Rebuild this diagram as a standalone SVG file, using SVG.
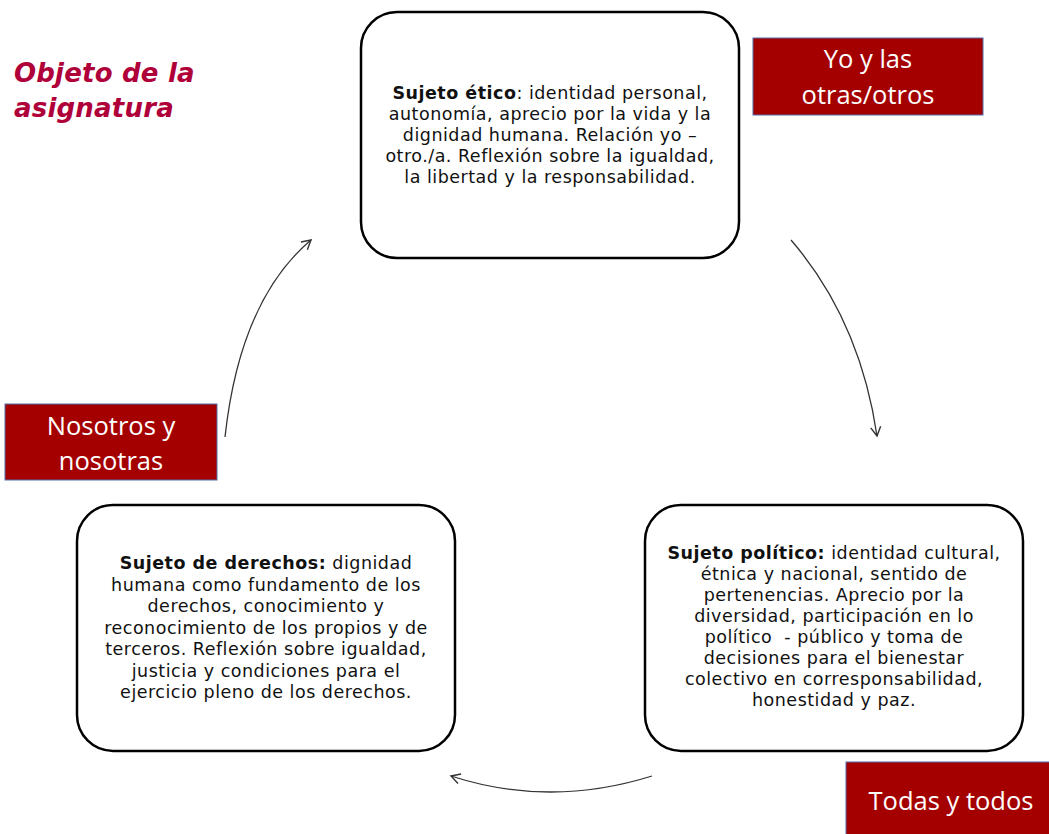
<svg xmlns="http://www.w3.org/2000/svg" width="1049" height="834" viewBox="0 0 1049 834">
<defs>
<style>
.box{fill:#fff;stroke:#000;stroke-width:2.5}
.lab{fill:#a50000;stroke:#4f6fa8;stroke-width:1}
.lt{font-family:"Open Sans",Lato,sans-serif;font-size:25.5px;fill:#fff;text-anchor:middle}
.bt{font-family:"DejaVu Sans","Open Sans",sans-serif;font-size:17.5px;letter-spacing:0.5px;fill:#111;text-anchor:middle}
.b{font-weight:bold}
.con{fill:none;stroke:#333;stroke-width:1.3}
.ttl{font-family:"DejaVu Sans","Open Sans",sans-serif;font-size:26px;letter-spacing:0.2px;font-weight:bold;font-style:italic;fill:#b0003a}
</style>
<marker id="ah" viewBox="0 0 12 12" refX="10" refY="6" markerWidth="12" markerHeight="12" markerUnits="userSpaceOnUse" orient="auto">
<path d="M1,1 L10,6 L1,11" fill="none" stroke="#333" stroke-width="1.4"/>
</marker>
</defs>
<rect width="1049" height="834" fill="#fff"/>
<text class="ttl" x="14" y="82">Objeto de la</text>
<text class="ttl" x="14" y="117">asignatura</text>
<g id="connectors">
<path class="con" d="M791,240 Q860,320 877,436" marker-end="url(#ah)"/>
<path class="con" d="M225,437 Q240,300 311,240" marker-end="url(#ah)"/>
<path class="con" d="M652,776 Q550,808 451,776" marker-end="url(#ah)"/>
</g>
<g id="node-etico">
<rect class="box" x="361" y="12" width="378" height="246" rx="36"/>
<text class="bt"><tspan x="550" y="99"><tspan class="b">Sujeto ético</tspan>: identidad personal,</tspan><tspan x="550" y="120">autonomía, aprecio por la vida y la</tspan><tspan x="550" y="141">dignidad humana. Relación yo –</tspan><tspan x="550" y="162">otro./a. Reflexión sobre la igualdad,</tspan><tspan x="550" y="183">la libertad y la responsabilidad.</tspan></text>
</g>
<g id="node-derechos">
<rect class="box" x="77" y="505" width="378" height="246" rx="36"/>
<text class="bt"><tspan x="266" y="569"><tspan class="b">Sujeto de derechos:</tspan> dignidad</tspan><tspan x="266" y="590.5">humana como fundamento de los</tspan><tspan x="266" y="612">derechos, conocimiento y</tspan><tspan x="266" y="633.5">reconocimiento de los propios y de</tspan><tspan x="266" y="655">terceros. Reflexión sobre igualdad,</tspan><tspan x="266" y="676.5">justicia y condiciones para el</tspan><tspan x="266" y="698">ejercicio pleno de los derechos.</tspan></text>
</g>
<g id="node-politico">
<rect class="box" x="645" y="505" width="378" height="246" rx="36"/>
<text class="bt" xml:space="preserve"><tspan x="834" y="559"><tspan class="b">Sujeto político:</tspan> identidad cultural,</tspan><tspan x="834" y="580">étnica y nacional, sentido de</tspan><tspan x="834" y="601">pertenencias. Aprecio por la</tspan><tspan x="834" y="622">diversidad, participación en lo</tspan><tspan x="834" y="643">político  - público y toma de</tspan><tspan x="834" y="664">decisiones para el bienestar</tspan><tspan x="834" y="685">colectivo en corresponsabilidad,</tspan><tspan x="834" y="706">honestidad y paz.</tspan></text>
</g>
<g id="label-yo">
<rect class="lab" x="753" y="38" width="230" height="77"/>
<text class="lt"><tspan x="868" y="68">Yo y las</tspan><tspan x="868" y="104">otras/otros</tspan></text>
</g>
<g id="label-nosotros">
<rect class="lab" x="5" y="404" width="212" height="76"/>
<text class="lt"><tspan x="111" y="435">Nosotros y</tspan><tspan x="111" y="470">nosotras</tspan></text>
</g>
<g id="label-todas">
<rect class="lab" x="846" y="762" width="210" height="80"/>
<text class="lt" x="951" y="810">Todas y todos</text>
</g>
</svg>
